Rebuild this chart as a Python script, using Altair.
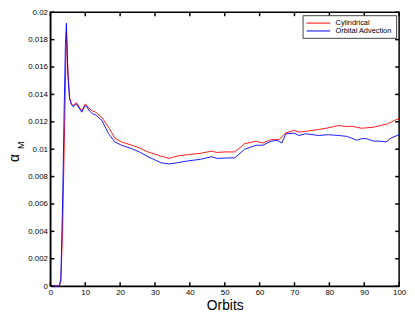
import altair as alt
import pandas as pd

# ---- data ----
cyl_orbits = [0, 2.5, 3, 3.5, 4, 4.3, 4.6, 5, 5.5, 6, 6.5, 7.5, 8.5, 9, 10, 10.5, 11, 12, 13,
              14.8, 16.7, 18.5, 20.4, 23.2, 25.5, 28, 31.7, 34.1, 36.4, 39.3, 43, 46.3, 47.7,
              50, 52.9, 55.7, 59, 60.9, 63.3, 65.6, 67.5, 69.9, 71.3, 73.2, 76.9, 79.7, 82.6,
              84.9, 86.4, 87.8, 89.2, 90.6, 92.5, 94.8, 96.7, 98.6, 100]
cyl_alpha = [0, 0, 0.0003, 0.004, 0.0105, 0.0145, 0.0186, 0.0160, 0.0138, 0.0133, 0.0132,
             0.0134, 0.0130, 0.0128, 0.0133, 0.0132, 0.0130, 0.0128, 0.0127,
             0.0123, 0.0116, 0.0108, 0.01053, 0.0103, 0.0101, 0.0098, 0.0095, 0.00933,
             0.0095, 0.0096, 0.0097, 0.00986, 0.00976, 0.0098, 0.0098, 0.0104, 0.01058,
             0.01045, 0.0107, 0.0107, 0.0112, 0.01137, 0.01125, 0.0113, 0.01144, 0.01156,
             0.01173, 0.01165, 0.01168, 0.0116, 0.01153, 0.01156, 0.0116, 0.01173, 0.01185,
             0.01209, 0.01225]

oa_orbits = [0, 2.5, 3, 3.5, 4, 4.3, 4.6, 5, 5.5, 6, 6.5, 7.5, 8.5, 9, 10, 10.5, 11, 12, 13,
             14.8, 16.7, 18.5, 20.4, 23.2, 25.5, 28, 31.7, 34.1, 36.4, 39.3, 43, 46.3, 47.7,
             50, 52.9, 55.7, 59, 60.9, 63.3, 65, 66.4, 67.5, 69.9, 71.3, 73.2, 76.9, 79.7,
             82.6, 84.9, 86.4, 87.8, 89.2, 90.6, 92.5, 94.8, 96.2, 97.9, 100]
oa_alpha = [0, 0, 0.0005, 0.006, 0.0135, 0.0175, 0.0192, 0.0155, 0.0137, 0.0133, 0.0131,
            0.0133, 0.0129, 0.0127, 0.0132, 0.0131, 0.01286, 0.0126, 0.0125,
            0.01209, 0.01113, 0.01053, 0.01029, 0.01005, 0.0098, 0.00945, 0.00901, 0.00892,
            0.00901, 0.00914, 0.00926, 0.00945, 0.00933, 0.00935, 0.00937, 0.0100, 0.01029,
            0.01029, 0.01058, 0.01065, 0.01045, 0.01113, 0.01117, 0.0110, 0.01113, 0.0110,
            0.01106, 0.0110, 0.01094, 0.01081, 0.01065, 0.01077, 0.01077, 0.0106, 0.01058,
            0.01053, 0.01084, 0.01106]

series_names = ["Cylindrical", "Orbital Advection"]
series_colors = ["#ff0000", "#0000ff"]
x_ticks = [0, 10, 20, 30, 40, 50, 60, 70, 80, 90, 100]
y_ticks = [0, 0.002, 0.004, 0.006, 0.008, 0.01, 0.012, 0.014, 0.016, 0.018, 0.02]
y_title_main = "α"
y_title_sub = "M"

df = pd.concat([
    pd.DataFrame({"orbit": cyl_orbits, "alpha": cyl_alpha, "series": series_names[0]}),
    pd.DataFrame({"orbit": oa_orbits, "alpha": oa_alpha, "series": series_names[1]}),
], ignore_index=True)
xt = pd.DataFrame({"orbit": x_ticks})
yt = pd.DataFrame({"alpha": y_ticks})

W, H = 354, 278
TL = 4  # inward tick length
FONT = "Liberation Sans"
FRAME_COLOR = "#000000"

xs = alt.Scale(domain=[0, 100], nice=False, zero=False)
ys = alt.Scale(domain=[0, 0.02], nice=False)

x_axis = alt.Axis(
    orient="bottom", values=x_ticks, ticks=False, domain=True, domainColor=FRAME_COLOR,
    domainWidth=1.2, labelFontSize=8,
    labelFont=FONT, labelColor="black", labelPadding=3, labelFlush=False,
    labelOverlap=False, title="Orbits", titleFont=FONT, titleFontSize=14,
    titleFontWeight="normal", titleColor="black", titlePadding=2)
y_axis = alt.Axis(
    orient="left", values=y_ticks, ticks=False, domain=True, domainColor=FRAME_COLOR,
    domainWidth=1.2, labelFontSize=8,
    labelFont=FONT, labelColor="black", labelPadding=3, labelOverlap=False,
    format="~g", title=None)

lines = alt.Chart(df).mark_line(strokeWidth=0.9).encode(
    x=alt.X("orbit:Q", scale=xs, axis=x_axis),
    y=alt.Y("alpha:Q", scale=ys, axis=y_axis),
    color=alt.Color("series:N", scale=alt.Scale(domain=series_names, range=series_colors),
                    legend=alt.Legend(
                        title=None, orient="top-right", offset=3,
                        symbolType="M-1,0H5", symbolSize=64, symbolStrokeWidth=1,
                        labelFontSize=7.5, labelFont=FONT, labelColor="black",
                        labelOffset=21, padding=3.5, rowPadding=0,
                        strokeColor="#444444", fillColor="white", cornerRadius=0)),
)

rule_kw = dict(color=FRAME_COLOR, strokeWidth=1.5)
ticks_bottom = alt.Chart(xt).mark_rule(**rule_kw).encode(
    x=alt.X("orbit:Q", scale=xs, axis=x_axis), y=alt.value(H), y2=alt.value(H - TL))
ticks_top = alt.Chart(xt).mark_rule(**rule_kw).encode(
    x=alt.X("orbit:Q", scale=xs, axis=x_axis), y=alt.value(0), y2=alt.value(TL))
ticks_left = alt.Chart(yt).mark_rule(**rule_kw).encode(
    y=alt.Y("alpha:Q", scale=ys, axis=y_axis), x=alt.value(0), x2=alt.value(TL))
ticks_right = alt.Chart(yt).mark_rule(**rule_kw).encode(
    y=alt.Y("alpha:Q", scale=ys, axis=y_axis), x=alt.value(W), x2=alt.value(W - TL))

ytitle = alt.Chart(pd.DataFrame({"t": [y_title_main]})).mark_text(
    font=FONT, fontSize=14, angle=270, baseline="alphabetic", align="center", color="black"
).encode(text="t:N", x=alt.value(-32), y=alt.value(148))
ysub = alt.Chart(pd.DataFrame({"t": [y_title_sub]})).mark_text(
    font=FONT, fontSize=9, angle=270, baseline="alphabetic", align="center", color="black"
).encode(text="t:N", x=alt.value(-27), y=alt.value(135))

chart = alt.layer(lines, ticks_bottom, ticks_top, ticks_left, ticks_right, ytitle, ysub).properties(
    width=W, height=H,
    autosize=alt.AutoSizeParams(type="none"),
    padding={"left": 43, "top": 2, "right": 8, "bottom": 28},
).configure_view(stroke=FRAME_COLOR, strokeWidth=1.5).configure_axis(grid=False)

chart.save("out.html", embed_options={"renderer": "svg", "actions": False})
